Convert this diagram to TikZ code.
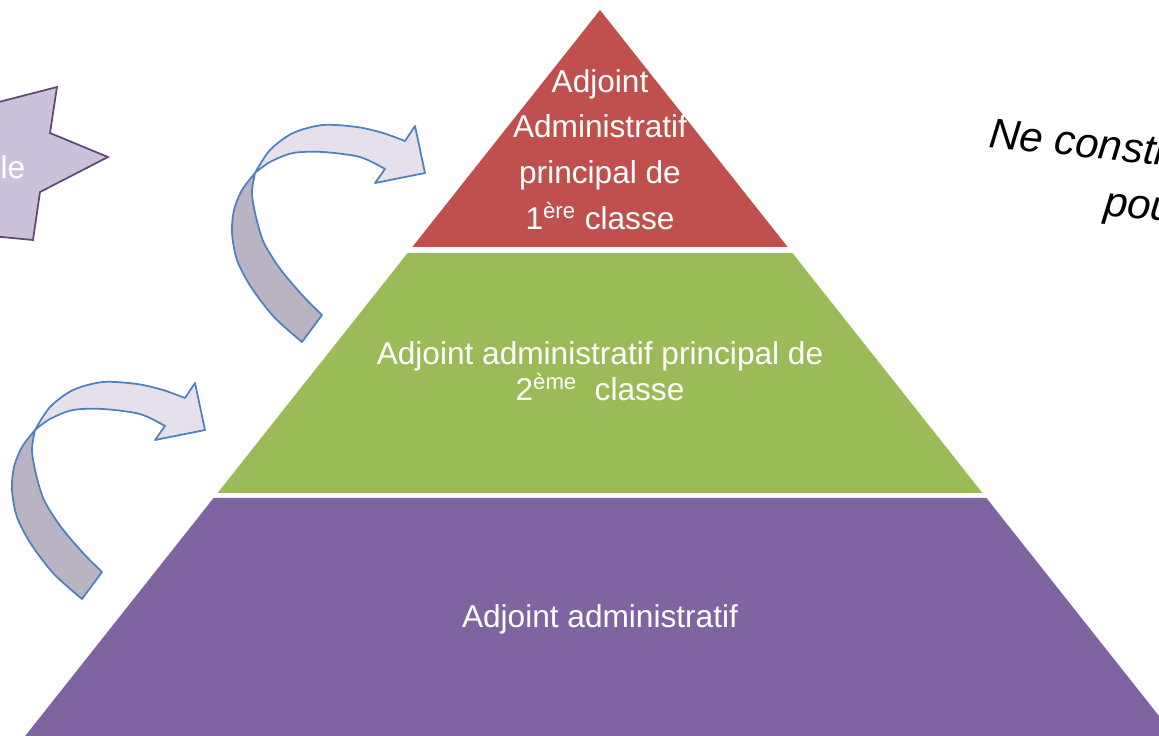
\documentclass[tikz,border=0pt]{standalone}
\usepackage{fontspec}
\setmainfont{Liberation Sans}
\usetikzlibrary{calc}

\definecolor{merah}{HTML}{C0504D}
\definecolor{hijau}{HTML}{9BBB59}
\definecolor{ungu}{HTML}{8064A2}
\definecolor{unguMuda}{HTML}{CCC1DA}
\definecolor{unguTua}{HTML}{5F497A}
\definecolor{biru}{HTML}{4F81BD}
\definecolor{panahDepan}{HTML}{E5E0EC}
\definecolor{panahBelakang}{HTML}{B9B3C3}

\tikzset{
  tingkat/.style={text=white,font=\fontsize{18}{26}\selectfont,align=center},
  panah/.pic={
    % bagian belakang (ekor)
    \filldraw[fill=panahBelakang,draw=biru,line width=1pt,line join=round]
      plot[smooth] coordinates {(47,169) (19,144) (-4,114) (-18,87) (-23,60) (-21,37) (-13,17) (0,0)}
      -- plot[smooth] coordinates {(0,0) (-3,20) (1,44) (9,70) (26,97) (49,124) (67,142)} -- cycle;
    % bagian depan dan kepala panah
    \filldraw[fill=panahDepan,draw=biru,line width=1pt,line join=round]
      plot[smooth] coordinates {(0,0) (15,-23) (38,-40) (68,-48) (102,-46) (128,-40) (150,-32)}
      -- (160,-47) -- (170,0) -- (120,10) -- (130,-4)
      -- plot[smooth] coordinates {(130,-4) (105,-16) (68,-21) (38,-20) (15,-11) (0,0)} -- cycle;
  }
}

\begin{document}
\begin{tikzpicture}[x=0.02cm,y=-0.02cm]
    \useasboundingbox (0,0) rectangle (1159,735);
    \clip (0,0) rectangle (1159,735);
    % titik-titik piramida
    \coordinate (P) at (600,10);
    \coordinate (L) at (18,745);
    \coordinate (R) at (1182,745);
    
    % tingkat-tingkat piramida
    \fill[merah] (P) -- ($(P)!0.3224!(L)$) -- ($(P)!0.3224!(R)$) -- cycle;
    \fill[hijau] ($(P)!0.3306!(L)$) -- ($(P)!0.6571!(L)$) -- ($(P)!0.6571!(R)$) -- ($(P)!0.3306!(R)$) -- cycle;
    \fill[ungu] ($(P)!0.6639!(L)$) -- (L) -- (R) -- ($(P)!0.6639!(R)$) -- cycle;
    
    % teks tingkat
    \node[tingkat] (satu) at (600,149.5) {Adjoint\\Administratif\\principal de\\1\textsuperscript{ère} classe};
    \node[tingkat,font=\fontsize{18}{19}\selectfont] (dua) at (600,371) {Adjoint administratif principal de\\2\textsuperscript{ème}\ \ classe};
    \node[tingkat,anchor=base] (tiga) at (600,627) {Adjoint administratif};
    
    % bintang di kiri
    \filldraw[fill=unguMuda,draw=unguTua,line width=1pt] (-40,112) -- (57,87) -- (50,133) -- (108,157) -- (40,192) -- (33,240) -- (-40,233) -- cycle;
    \node[tingkat] (bintang) at (13,167) {le};
    
    % panah melengkung
    \pic at (255,173) {panah};
    \pic at (35,430) {panah};
    
    % teks di kanan
    \node[anchor=base west,rotate=-6,font=\fontsize{24}{28}\selectfont\itshape,inner sep=0pt] (ne) at (988,147) {Ne constr};
    \node[anchor=base west,rotate=-6,font=\fontsize{24}{28}\selectfont\itshape,inner sep=0pt] (pou) at (1103,215) {pou};
\end{tikzpicture}
\end{document}
